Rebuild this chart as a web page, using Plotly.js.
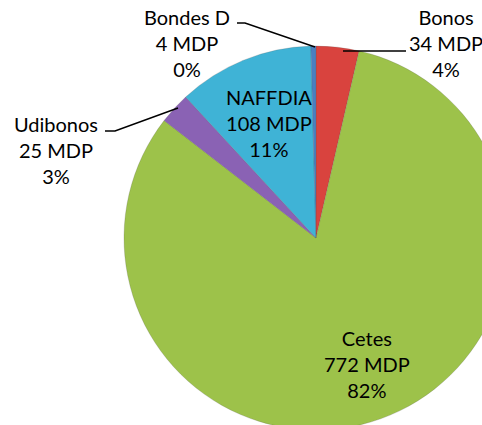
<!DOCTYPE html>
<html>
<head>
<meta charset="utf-8">
<script src="https://cdn.plot.ly/plotly-3.0.1.min.js"></script>
<style>
  html, body { margin: 0; padding: 0; background: #fff; }
  #wrap { position: relative; width: 482px; height: 425px; overflow: hidden; }
  #plot { position: absolute; left: 0; top: 0; width: 520px; height: 440px; }
</style>
</head>
<body>
<div id="wrap"><div id="plot"></div></div>
<script>
// Data (clockwise from 12 o'clock)
const categories = ["Bonos", "Cetes", "Udibonos", "NAFFDIA", "Bondes D"];
const values = [34, 772, 25, 108, 4];
const units = "MDP";
const colors = ["#D9433E", "#9DC24A", "#8A62B4", "#3FB3D6", "#4A7FC0"];

const W = 520, H = 440;
const px = x => x / W;
const py = y => 1 - y / H;

const total = values.reduce((a, b) => a + b, 0);
const labelText = categories.map((c, i) =>
  c + "<br>" + values[i] + " " + units + "<br>" + Math.round(values[i] / total * 100) + "%");

// label centres in page pixels (layout)
const labelPos = {
  "Bonos":    [446, 43],
  "Cetes":    [367, 364],
  "Udibonos": [56, 150],
  "NAFFDIA":  [269, 123],
  "Bondes D": [187, 43]
};

const annotations = categories.map((c, i) => ({
  x: px(labelPos[c][0]), y: py(labelPos[c][1]),
  xref: "paper", yref: "paper",
  xanchor: "center", yanchor: "middle",
  text: labelText[i], showarrow: false, align: "center",
  font: { family: "Lato, 'Open Sans', sans-serif", size: 20, color: "#000" }
}));

function path(pts) {
  return pts.map((p, k) => (k ? "L" : "M") + px(p[0]) + "," + py(p[1])).join(" ");
}
const leaderStyle = { color: "#000", width: 1.5 };
const shapes = [
  { type: "path", xref: "paper", yref: "paper", path: path([[237, 23], [245, 23], [315, 47]]), line: leaderStyle },
  { type: "path", xref: "paper", yref: "paper", path: path([[343, 51], [406, 51]]), line: leaderStyle },
  { type: "path", xref: "paper", yref: "paper", path: path([[105, 131], [115, 131], [178, 108]]), line: leaderStyle }
];

const trace = {
  type: "pie",
  labels: categories,
  values: values,
  sort: false,
  direction: "clockwise",
  rotation: 0,
  textinfo: "none",
  hoverinfo: "skip",
  marker: { colors: colors, line: { color: "rgba(80,80,80,0.35)", width: 0.6 } },
  domain: { x: [px(124), px(508)], y: [py(430), py(46)] }
};

const layout = {
  width: W, height: H,
  margin: { l: 0, r: 0, t: 0, b: 0 },
  paper_bgcolor: "#fff",
  showlegend: false,
  hovermode: false,
  annotations: annotations,
  shapes: shapes
};

Plotly.newPlot("plot", [trace], layout, { displayModeBar: false, staticPlot: true });
</script>
</body>
</html>
